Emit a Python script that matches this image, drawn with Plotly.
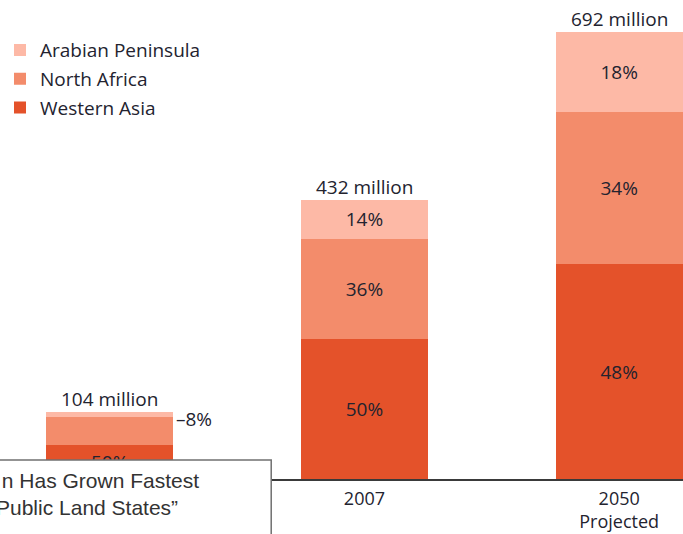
import plotly.graph_objects as go

# ---- data ----
categories = ["1950", "2007", "2050"]
tick_labels = ["", "2007", "2050<br>Projected"]   # first label is hidden behind the caption box
totals = [104, 432, 692]  # millions
regions = ["Western Asia", "North Africa", "Arabian Peninsula"]
share_western_asia = [50, 50, 48]
share_north_africa = [42, 36, 34]
share_arabian = [8, 14, 18]
total_labels = ["104 million", "432 million", "692 million"]
caption_lines = ["\u00a0n Has Grown Fastest", "Public Land States\u201d"]
colors = {"Western Asia": "#E4522A", "North Africa": "#F38C6B", "Arabian Peninsula": "#FDB9A6"}
legend_rank = {"Arabian Peninsula": 1, "North Africa": 2, "Western Asia": 3}

shares = {
    "Western Asia": share_western_asia,
    "North Africa": share_north_africa,
    "Arabian Peninsula": share_arabian,
}

FONT = "'Open Sans', Lato, sans-serif"
TXT = "#23232f"
idx = list(range(len(categories)))

fig = go.Figure()
for reg in regions:
    vals = [t * s / 100 for t, s in zip(totals, shares[reg])]
    fig.add_trace(go.Bar(
        x=idx, y=vals, name=reg,
        marker=dict(color=colors[reg], line=dict(width=0)),
        text=[f"{s}%" for s in shares[reg]],
        textposition="inside", insidetextanchor="middle", textangle=0,
        textfont=dict(family=FONT, size=19, color=TXT),
        width=0.5, legendgroup=reg, legendrank=legend_rank[reg], hoverinfo="skip",
    ))

annotations = []
for i, t, lab in zip(idx, totals, total_labels):
    annotations.append(dict(x=i, y=t, text=lab, showarrow=False, yanchor="bottom",
                            yshift=-2, font=dict(family=FONT, size=19, color=TXT)))

# small segment label outside the first bar
annotations.append(dict(x=idx[0], y=totals[0] * (1 - share_arabian[0] / 200),
                        text=f"\u2013{share_arabian[0]}%", showarrow=False,
                        xanchor="left", xshift=64, yshift=-4,
                        font=dict(family=FONT, size=19, color=TXT)))

# overlaid caption box text
CAP_FONT = dict(family="'Liberation Sans', Arial, sans-serif", size=21, color="#333333")
annotations.append(dict(xref="paper", yref="paper", x=0, y=-0.031, xanchor="left", yanchor="middle",
                        xshift=-8, align="left", text="<br>".join(caption_lines),
                        showarrow=False, font=CAP_FONT))

fig.update_layout(
    width=683, height=534,
    margin=dict(l=0, r=0, t=0, b=55, pad=0),
    barmode="stack",
    uniformtext=dict(minsize=19, mode="hide"),
    plot_bgcolor="white", paper_bgcolor="white",
    font=dict(family=FONT, color=TXT),
    showlegend=True,
    legend=dict(x=-0.003, y=0.935, xanchor="left", yanchor="top",
                traceorder="grouped", tracegroupgap=1,
                font=dict(family=FONT, size=19, color=TXT),
                bgcolor="rgba(0,0,0,0)"),
    xaxis=dict(range=[-0.4227, 2.2505], showline=True, linecolor="#3a3a3a", linewidth=2,
               ticks="", showgrid=False, zeroline=False, ticklabelstandoff=2,
               tickmode="array", tickvals=idx, ticktext=tick_labels,
               tickfont=dict(family=FONT, size=18, color=TXT)),
    yaxis=dict(range=[0, 741.5], visible=False),
    shapes=[dict(type="rect", xref="paper", yref="paper", x0=-0.01, x1=270 / 683,
                 y0=-0.2, y1=(479 - 460) / 479, layer="above",
                 line=dict(color="#707070", width=1.5), fillcolor="white")],
    annotations=annotations,
)

fig.write_html("out.html", config={"displayModeBar": False},
               post_script="document.body.style.margin='0px';document.body.style.overflow='hidden';")
